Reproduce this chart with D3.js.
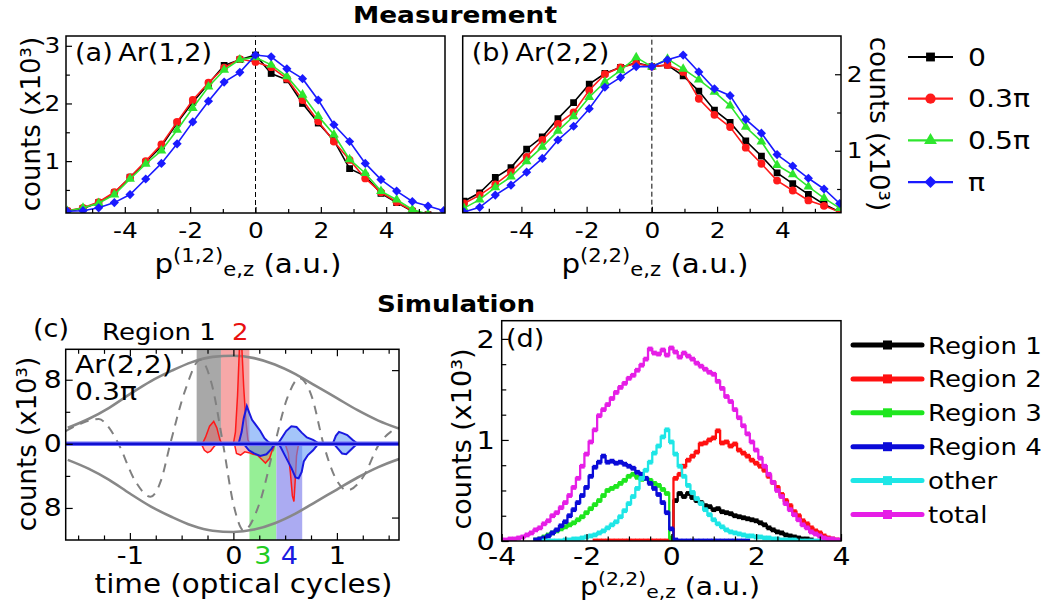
<!DOCTYPE html>
<html><head><meta charset="utf-8">
<script src="https://cdn.jsdelivr.net/npm/d3@7"></script>
<style>
body{margin:0;background:#fff}
svg{display:block}
text{font-family:'DejaVu Sans',Verdana,sans-serif}
</style></head>
<body><svg id="chart" width="1050" height="612"></svg>
<script>
const _ = null;
// ---------------- (a),(b) measurement data ----------------
const phaseLabels = ["0", "0.3π", "0.5π", "π"];
const phaseColors = ["#000000", "#ff1a1a", "#2ee62e", "#1a1aff"];
const pz = [-5.76,-5.28,-4.80,-4.32,-3.84,-3.36,-2.88,-2.40,-1.92,-1.44,-0.96,-0.48,0,0.48,0.96,1.44,1.92,2.40,2.88,3.36,3.84,4.32,4.80,5.28,5.76];
const a_0   = [0.13,0.18,0.28,0.45,0.72,0.98,1.26,1.66,2.02,2.34,2.66,2.76,2.84,2.52,2.41,2.00,1.66,1.36,0.87,0.74,0.44,0.28,0.13,0.07,0.04];
const a_03  = [0.14,0.19,0.29,0.46,0.72,1.00,1.29,1.68,2.06,2.36,2.62,2.77,2.72,2.63,2.43,2.06,1.69,1.34,1.02,0.70,0.46,0.29,0.14,0.07,0.04];
const a_05  = [0.13,0.19,0.27,0.42,0.69,0.95,1.18,1.54,1.92,2.29,2.58,2.76,2.80,2.67,2.47,2.15,1.78,1.46,1.03,0.79,0.48,0.33,0.16,0.08,0.05];
const a_pi  = [0.13,0.14,0.19,0.28,0.42,0.69,0.96,1.30,1.68,2.04,2.37,2.54,2.84,2.81,2.60,2.43,2.06,1.63,1.34,0.96,0.68,0.48,0.30,0.22,0.14];
const b_0   = [0.34,0.45,0.65,0.78,1.02,1.18,1.42,1.63,1.87,2.01,2.09,2.15,2.10,2.12,1.98,1.78,1.53,1.37,1.13,0.93,0.71,0.57,0.43,0.30,0.20];
const b_03  = [0.31,0.42,0.56,0.72,0.92,1.14,1.35,1.50,1.79,2.00,2.09,2.14,2.10,2.12,2.03,1.68,1.47,1.31,1.04,0.83,0.61,0.48,0.35,0.28,0.20];
const b_05  = [0.25,0.36,0.52,0.66,0.86,1.05,1.26,1.45,1.70,1.90,2.05,2.22,2.10,2.20,2.07,1.93,1.77,1.59,1.31,1.12,0.81,0.69,0.53,0.38,0.25];
const b_pi  = [0.20,0.26,0.42,0.55,0.72,0.90,1.14,1.32,1.55,1.83,1.96,2.10,2.10,2.19,2.25,2.03,1.81,1.72,1.41,1.23,0.95,0.80,0.64,0.50,0.31];
const abXMajor = [-4,-2,0,2,4];
const abXMinor = [-5,-3,-1,1,3,5];

// ---------------- (c) simulation time data ----------------
const cEnvT = [-1.6,-1.4,-1.2,-1.0,-0.8,-0.6,-0.4,-0.2,0,0.2,0.4,0.6,0.8,1.0,1.2,1.4,1.6];
const cEnvV = [2.0,3.1,4.5,6.2,7.8,9.1,10.2,10.85,11.0,10.7,9.9,8.7,7.2,5.7,4.2,2.9,1.9];
const cFieldT = [-1.62,-1.46,-1.30,-1.20,-1.11,-0.95,-0.80,-0.70,-0.61,-0.46,-0.32,-0.21,-0.10,0.00,0.10,0.25,0.40,0.52,0.64,0.76,0.87,0.98,1.10,1.25,1.41,1.52,1.62];
const cFieldV = [1.6,2.6,3.1,2.0,0,-4.6,-6.6,-4.6,0,6.9,10.5,7.5,0,-7.5,-10.8,-7.5,0,5.7,8.2,5.8,0,-4.1,-5.8,-4.2,0,1.5,2.1];
const cRedUpT  = [-0.30,-0.27,-0.23,-0.19,-0.16,-0.13,-0.11,0.00,0.02,0.04,0.06,0.08,0.10,0.12,0.14,0.16];
const cRedUpV  = [0,0.8,2.2,2.8,2.0,0.5,0,0,1.5,6,12.5,12.5,7,3,0.5,0];
const cRedLoT  = [-0.31,-0.28,-0.25,-0.22,-0.19,-0.16,0.01,0.03,0.07,0.11,0.15,0.19,0.23,0.27,0.31,0.35,0.38,0.40,0.50,0.53,0.55,0.57,0.585,0.60,0.61,0.63];
const cRedLoV  = [0,-0.8,-1.1,-0.9,-0.4,0,0,-1.2,-1.4,-1.0,-1.1,-1.3,-1.4,-1.9,-2.4,-1.8,-0.6,0,0,-1.2,-3.5,-6.5,-7.2,-4.0,-1.5,0];
const cBlueUpT = [0.05,0.08,0.10,0.13,0.15,0.18,0.22,0.26,0.30,0.34,0.37,0.43,0.47,0.51,0.56,0.61,0.66,0.71,0.77,0.83,0.96,0.99,1.02,1.06,1.10,1.15,1.20];
const cBlueUpV = [0,1.5,3.2,4.7,4.0,3.0,2.3,1.6,0.7,0.2,0,0,0.8,1.6,2.2,2.1,1.4,0.8,0.5,0,0,1.0,1.5,1.3,1.1,0.5,0];
const cBlueLoT = [0.10,0.15,0.20,0.26,0.32,0.37,0.40,0.44,0.48,0.52,0.56,0.60,0.63,0.66,0.68,0.72,0.77,0.82,0.97,1.01,1.05,1.09,1.13,1.17,1.20];
const cBlueLoV = [0,-0.8,-1.2,-1.5,-1.3,-0.6,0,0,-1.0,-2.0,-3.0,-4.2,-4.3,-3.5,-2.2,-1.4,-0.8,0,0,-0.6,-1.2,-1.3,-0.8,-0.3,0];
const cRegionEdges = [-0.355,-0.12,0.155,0.415,0.665];
const cRegionFill = ["#a8a8a8","#f6a8a8","#96ef96","#ababf2"];
const cRegionText = ["#000000","#e81010","#22cc22","#1a1ae0"];

// ---------------- (d) simulated momentum distributions ----------------
const regionLabels = ["Region 1","Region 2","Region 3","Region 4","other","total"];
const regionColors = ["#000000","#ff1010","#1ee61e","#0a0ad8","#1ee6e6","#e61ee6"];
const xD = [-4.0,-3.9,-3.8,-3.7,-3.6,-3.5,-3.4,-3.3,-3.2,-3.1,-3.0,-2.9,-2.8,-2.7,-2.6,-2.5,-2.4,-2.3,-2.2,-2.1,-2.0,-1.9,-1.8,-1.7,-1.6,-1.5,-1.4,-1.3,-1.2,-1.1,-1.0,-0.9,-0.8,-0.7,-0.6,-0.5,-0.4,-0.3,-0.2,-0.1,0.0,0.1,0.2,0.3,0.4,0.5,0.6,0.7,0.8,0.9,1.0,1.1,1.2,1.3,1.4,1.5,1.6,1.7,1.8,1.9,2.0,2.1,2.2,2.3,2.4,2.5,2.6,2.7,2.8,2.9,3.0,3.1,3.2,3.3,3.4,3.5,3.6,3.7,3.8,3.9,4.0];
const dRegion1 = [_,_,_,_,_,_,_,_,_,_, _,_,_,_,_,_,_,_,_,_, _,_,_,_,_,_,_,_,_,_, _,_,_,_,_,_,_,_,_,_,
  0.02,0.40,0.47,0.44,0.47,0.43,0.40,0.38,0.35,0.34, 0.31,0.32,0.29,0.28,0.27,0.25,0.24,0.23,0.22,0.21,
  0.20,0.18,0.16,0.13,0.11,0.09,0.08,0.06,0.05,0.04, 0.03,0.02,0.02,0.01,_,_,_,_,_,_, _];
const dRegion2 = [_,_,_,_,_,_,_,_,_,_, _,_,_,_,_,_,_,_,_,_, _,_,0,0,0,0,0,0,0,0, 0,0,0,0,0,0,0,0,0,0,
  0.02,0.62,0.66,0.74,0.80,0.84,0.88,0.96,0.97,1.00, 1.02,1.09,0.97,0.98,0.94,0.96,0.90,0.87,0.84,0.80,
  0.77,0.74,0.70,0.64,0.58,0.53,0.46,0.40,0.35,0.29, 0.25,0.20,0.17,0.13,0.10,0.08,0.05,0.03,0.02,0.01, _];
const dRegion3 = [_,_,_,_,_,_,_,_,0.01,0.02, 0.04,0.06,0.08,0.10,0.12,0.14,0.16,0.18,0.21,0.24,
  0.28,0.32,0.36,0.40,0.45,0.50,0.52,0.54,0.57,0.60, 0.64,0.66,0.63,0.61,0.62,0.60,0.57,0.55,0.51,0.47,
  0.03,_,_,_,_,_,_,_,_,_, _,_,_,_,_,_,_,_,_,_, _,_,_,_,_,_,_,_,_,_, _,_,_,_,_,_,_,_,_,_, _];
const dRegion4 = [_,_,_,_,_,_,_,_,0.01,0.02, 0.03,0.05,0.08,0.11,0.15,0.19,0.25,0.31,0.38,0.45,
  0.53,0.64,0.73,0.78,0.84,0.78,0.79,0.77,0.78,0.76, 0.74,0.72,0.68,0.66,0.62,0.57,0.52,0.46,0.38,0.28,
  0.12,0.01,0,0,0,0,0,0,0,0, 0,0,0,0,0,0,0,0,0,_, _,_,_,_,_,_,_,_,_,_, _,_,_,_,_,_,_,_,_,_, _];
const dOther = [_,_,_,_,_,_,_,_,_,_, 0,0,0,0,0.00,0.01,0.01,0.02,0.02,0.03,
  0.04,0.05,0.06,0.08,0.10,0.13,0.16,0.19,0.24,0.30, 0.37,0.44,0.52,0.62,0.70,0.78,0.87,0.94,1.03,1.10,
  0.98,0.86,0.74,0.64,0.55,0.48,0.42,0.37,0.31,0.26, 0.21,0.17,0.14,0.11,0.09,0.08,0.07,0.06,0.05,0.05,
  0.04,0.04,0.03,0.03,0.02,0.02,0.01,0.01,0.01,0.01, 0,0,0,0,0,0,0,_,_,_, _];
const dTotal = [0.01,0.01,0.02,0.02,0.03,0.04,0.06,0.08,0.11,0.13, 0.17,0.20,0.25,0.28,0.33,0.38,0.45,0.53,0.62,0.74,
  0.86,0.98,1.10,1.24,1.30,1.35,1.41,1.47,1.52,1.56, 1.61,1.64,1.69,1.74,1.80,1.90,1.86,1.85,1.89,1.84,
  1.91,1.87,1.82,1.86,1.83,1.80,1.76,1.73,1.70,1.67, 1.65,1.58,1.51,1.43,1.38,1.30,1.22,1.14,1.06,0.98,
  0.90,0.82,0.74,0.66,0.58,0.50,0.44,0.37,0.31,0.26, 0.21,0.16,0.13,0.09,0.07,0.05,0.03,0.02,0.02,0.01, 0.01];

// ---------------- drawing ----------------
const SX = 1.13;
const svg = d3.select("#chart");

function txt(s, x, y, o = {}) {
  const t = svg.append("text")
    .attr("transform", `translate(${x},${y}) scale(${o.sx ?? SX},1)`)
    .attr("text-anchor", o.anchor || "start")
    .attr("font-size", o.size || 22)
    .attr("font-weight", o.weight || "normal")
    .attr("fill", o.fill || "#000");
  if (o.len) t.attr("textLength", o.len).attr("lengthAdjust", "spacingAndGlyphs");
  t.text(s);
  return t;
}
function vtxt(s, x, y, size, rot) {
  svg.append("text").attr("transform", `translate(${x},${y}) rotate(${rot})`)
    .attr("text-anchor", "middle").attr("font-size", size).attr("fill", "#000").text(s);
}
function pLabel(cx, y, sup, size) {
  const t = svg.append("text").attr("transform", `translate(${cx},${y}) scale(${SX},1)`)
    .attr("text-anchor", "middle").attr("font-size", size).attr("fill", "#000");
  t.append("tspan").text("p");
  t.append("tspan").attr("font-size", size * 0.72).attr("dy", -size * 0.42).text(sup);
  t.append("tspan").attr("font-size", size * 0.72).attr("dy", size * 0.54).text("e,z");
  t.append("tspan").attr("dy", -size * 0.12).text(" (a.u.)");
}
function frame(x, y) {
  svg.append("rect").attr("x", x.range()[0]).attr("y", y.range()[1])
    .attr("width", x.range()[1] - x.range()[0]).attr("height", y.range()[0] - y.range()[1])
    .attr("fill", "none").attr("stroke", "#000").attr("stroke-width", 1.5);
}
let clipN = 0;
function clipFor(x, y) {
  const id = "clip" + (clipN++);
  svg.append("clipPath").attr("id", id).append("rect")
    .attr("x", x.range()[0]).attr("y", y.range()[1])
    .attr("width", x.range()[1] - x.range()[0]).attr("height", y.range()[0] - y.range()[1]);
  return `url(#${id})`;
}
function axis(side, scale, pos, major, minor, o = {}) {
  const A = {bottom: d3.axisBottom, left: d3.axisLeft, right: d3.axisRight, top: d3.axisTop}[side];
  const tr = (side === "bottom" || side === "top") ? `translate(0,${pos})` : `translate(${pos},0)`;
  const len = o.len || 6;
  if (minor && minor.length) {
    const gm = svg.append("g").attr("transform", tr)
      .call(A(scale).tickValues(minor).tickSizeInner(-len * 0.65).tickSizeOuter(0).tickFormat(() => ""));
    gm.select(".domain").remove();
    gm.selectAll("line").attr("stroke", "#000").attr("stroke-width", 1.2);
  }
  const fmt = o.labels === false ? (() => "") : (o.fmt || (d => String(d)));
  const g = svg.append("g").attr("transform", tr)
    .call(A(scale).tickValues(major).tickSizeInner(-len).tickSizeOuter(0).tickPadding(o.pad ?? 5).tickFormat(fmt));
  g.select(".domain").remove();
  g.selectAll("line").attr("stroke", "#000").attr("stroke-width", 1.2);
  g.selectAll("text").attr("font-size", o.size || 22).attr("fill", o.fill || "#000")
    .attr("transform", `scale(${SX},1)`);
  return g;
}
const markers = [
  {type: d3.symbolSquare, size: 46, rot: 0},
  {type: d3.symbolCircle, size: 48, rot: 0},
  {type: d3.symbolTriangle, size: 42, rot: 0},
  {type: d3.symbolSquare, size: 42, rot: 45}
];

// Titles
txt("Measurement", 455, 23, {anchor: "middle", size: 23, weight: "bold", sx: 1, len: 204});
txt("Simulation", 456, 312, {anchor: "middle", size: 23, weight: "bold", sx: 1, len: 158});

// ---- panel (a) and (b)
function measPanel(xr, yr, ydom, seriesList, yMajor, yMinor, ySide, tag, sup, labelX, ylabX, ylabRot) {
  const x = d3.scaleLinear().domain([-5.8, 5.8]).range(xr);
  const y = d3.scaleLinear().domain(ydom).range(yr);
  const cp = clipFor(x, y);
  const gp = svg.append("g").attr("clip-path", cp);
  gp.append("line").attr("x1", x(0)).attr("x2", x(0)).attr("y1", yr[0]).attr("y2", yr[1])
    .attr("stroke", "#000").attr("stroke-width", 1).attr("stroke-dasharray", "5,3");
  const line = d3.line().x((d, i) => x(pz[i])).y(d => y(d));
  seriesList.forEach((vals, k) => {
    gp.append("path").attr("d", line(vals)).attr("fill", "none")
      .attr("stroke", phaseColors[k]).attr("stroke-width", 1.6);
    const m = markers[k];
    const sym = d3.symbol().type(m.type).size(m.size)();
    gp.selectAll(null).data(vals).enter().append("path").attr("d", sym)
      .attr("transform", (d, i) => `translate(${x(pz[i])},${y(d)}) rotate(${m.rot})`)
      .attr("fill", phaseColors[k]);
  });
  frame(x, y);
  axis("bottom", x, yr[0], abXMajor, abXMinor, {size: 22, pad: 9.5, len: 6});
  if (ySide === "left") axis("left", y, xr[0], yMajor, yMinor, {size: 22, pad: 5, len: 6});
  else axis("right", y, xr[1], yMajor, yMinor, {size: 22, pad: 5, len: 6});
  txt(tag, xr[0] + 9, 61, {size: 24});
  pLabel(labelX, 273, sup, 26);
  vtxt("counts (x10³)", ylabX, 124, 26, ylabRot);
}
measPanel([66, 445], [213, 36], [0.1, 3.17], [a_0, a_03, a_05, a_pi], [1, 2, 3], [0.5, 1.5, 2.5], "left",
  "(a)\u2009Ar(1,2)", "(1,2)", 248, 40, -90);
measPanel([462.7, 841], [212.7, 36], [0.19, 2.5], [b_0, b_03, b_05, b_pi], [1, 2], [0.5, 1.5], "right",
  "(b)\u2009Ar(2,2)", "(2,2)", 655, 870, 90);

// legend (a,b)
phaseLabels.forEach((lab, k) => {
  const cy = 57 + k * 41.7;
  svg.append("line").attr("x1", 908).attr("x2", 953).attr("y1", cy).attr("y2", cy)
    .attr("stroke", phaseColors[k]).attr("stroke-width", 2.2);
  const m = markers[k];
  svg.append("path").attr("d", d3.symbol().type(m.type).size(m.size * 1.7)())
    .attr("transform", `translate(930.5,${cy}) rotate(${m.rot})`).attr("fill", phaseColors[k]);
  txt(lab, 968, cy + 8.5, {size: 25});
});

// ---- panel (c)
{
  const x = d3.scaleLinear().domain([-1.62, 1.60]).range([65.7, 399]);
  const y = d3.scaleLinear().domain([-12, 11.8]).range([540, 349.3]);
  const cp = clipFor(x, y);
  const gp = svg.append("g").attr("clip-path", cp);
  for (let i = 0; i < 4; i++) {
    const top = i < 2 ? y(11.8) : y(0);
    const bot = i < 2 ? y(0) : y(-12);
    gp.append("rect").attr("x", x(cRegionEdges[i])).attr("width", x(cRegionEdges[i + 1]) - x(cRegionEdges[i]))
      .attr("y", top).attr("height", bot - top).attr("fill", cRegionFill[i]);
  }
  const envUp = d3.line().curve(d3.curveMonotoneX).x((d, i) => x(cEnvT[i])).y(d => y(d));
  const envLo = d3.line().curve(d3.curveMonotoneX).x((d, i) => x(cEnvT[i])).y(d => y(-d));
  gp.append("path").attr("d", envUp(cEnvV)).attr("fill", "none").attr("stroke", "#888").attr("stroke-width", 2.6);
  gp.append("path").attr("d", envLo(cEnvV)).attr("fill", "none").attr("stroke", "#888").attr("stroke-width", 2.6);
  const fld = d3.line().curve(d3.curveMonotoneX).x((d, i) => x(cFieldT[i])).y(d => y(d));
  gp.append("path").attr("d", fld(cFieldV)).attr("fill", "none").attr("stroke", "#808080")
    .attr("stroke-width", 2).attr("stroke-dasharray", "9,7");
  function lobe(T, V, fill, stroke, w) {
    const ar = d3.area().x((d, i) => x(T[i])).y0(y(0)).y1(d => y(d));
    const ln = d3.line().x((d, i) => x(T[i])).y(d => y(d));
    gp.append("path").attr("d", ar(V)).attr("fill", fill);
    gp.append("path").attr("d", ln(V)).attr("fill", "none").attr("stroke", stroke).attr("stroke-width", w);
  }
  lobe(cRedUpT, cRedUpV, "rgba(255,70,70,0.35)", "#ff1a1a", 1.5);
  lobe(cRedLoT, cRedLoV, "rgba(255,70,70,0.35)", "#ff1a1a", 1.5);
  lobe(cBlueUpT, cBlueUpV, "rgba(90,150,245,0.55)", "#1a1ae0", 2);
  lobe(cBlueLoT, cBlueLoV, "rgba(90,150,245,0.55)", "#1a1ae0", 2);
  gp.append("line").attr("x1", x.range()[0]).attr("x2", x.range()[1]).attr("y1", y(0)).attr("y2", y(0))
    .attr("stroke", "#6a6af5").attr("stroke-width", 4.5);
  gp.append("line").attr("x1", x.range()[0]).attr("x2", x.range()[1]).attr("y1", y(0)).attr("y2", y(0))
    .attr("stroke", "#1010d0").attr("stroke-width", 2.2);
  frame(x, y);
  const tq = [-1.5,-1.25,-0.75,-0.5,-0.25,0.25,0.5,0.75,1.25,1.5];
  axis("bottom", x, 540, [-1, 0, 1], tq, {size: 24, pad: 6.5, len: 7});
  axis("top", x, 349.3, [-1, 0, 1], tq, {labels: false, len: 7});
  axis("left", y, 65.7, [-8, 0, 8], [-4, 4], {size: 25, pad: 3.5, len: 7, fmt: d => String(Math.abs(d))});
  axis("right", y, 399, [-9.2, 9.2], [], {labels: false, len: 7});
  // region number labels
  const cen = i => (x(cRegionEdges[i]) + x(cRegionEdges[i + 1])) / 2;
  txt("Region 1", cen(0) + 7, 340, {size: 23, anchor: "end"});
  txt("2", cen(1) + 5, 340, {size: 23, anchor: "middle", fill: cRegionText[1]});
  txt("3", cen(2), 564, {size: 24, anchor: "middle", fill: cRegionText[2]});
  txt("4", cen(3), 564, {size: 24, anchor: "middle", fill: cRegionText[3]});
  txt("(c)", 33, 337, {size: 24});
  txt("Ar(2,2)", 75, 373, {size: 25});
  txt("0.3π", 75, 400, {size: 25});
  txt("time (optical cycles)", 243.5, 593, {size: 26, anchor: "middle"});
  vtxt("counts (x10³)", 36, 444, 26, -90);
}

// ---- panel (d)
{
  const x = d3.scaleLinear().domain([-4, 4]).range([501.7, 841]);
  const y = d3.scaleLinear().domain([0, 2.18]).range([541, 320.7]);
  const cp = clipFor(x, y);
  const gp = svg.append("g").attr("clip-path", cp);
  const series = [dRegion1, dRegion2, dRegion3, dRegion4, dOther, dTotal];
  const ln = d3.line().defined(d => d != null).curve(d3.curveStep).x((d, i) => x(xD[i])).y(d => y(d));
  series.forEach((vals, k) => {
    gp.append("path").attr("d", ln(vals)).attr("fill", "none").attr("stroke", regionColors[k]).attr("stroke-width", 2.3);
    gp.selectAll(null).data(vals.map((v, i) => [xD[i], v]).filter(p => p[1] != null)).enter()
      .append("rect").attr("x", p => x(p[0]) - 2.4).attr("y", p => y(p[1]) - 2.4)
      .attr("width", 4.8).attr("height", 4.8).attr("fill", regionColors[k]);
  });
  frame(x, y);
  axis("bottom", x, 541, [-4, -2, 0, 2, 4], [-3.5,-3,-2.5,-1.5,-1,-0.5,0.5,1,1.5,2.5,3,3.5], {size: 25, pad: 6.5, len: 7});
  axis("left", y, 501.7, [0, 1, 2], [0.25,0.5,0.75,1.25,1.5,1.75], {size: 25.5, pad: 6, len: 7});
  txt("(d)", 506, 347, {size: 24});
  pLabel(670, 595, "(2,2)", 25);
  vtxt("counts (x10³)", 471, 439, 27, -90);
  // legend (d)
  regionLabels.forEach((lab, k) => {
    const cy = 345 + k * 33.9;
    svg.append("line").attr("x1", 853).attr("x2", 922).attr("y1", cy).attr("y2", cy)
      .attr("stroke", regionColors[k]).attr("stroke-width", 5).attr("stroke-linecap", "round");
    svg.append("rect").attr("x", 883).attr("y", cy - 4.5).attr("width", 9).attr("height", 9).attr("fill", regionColors[k]);
    txt(lab, 928, cy + 8.5, {size: 23});
  });
}
</script>
</body></html>
